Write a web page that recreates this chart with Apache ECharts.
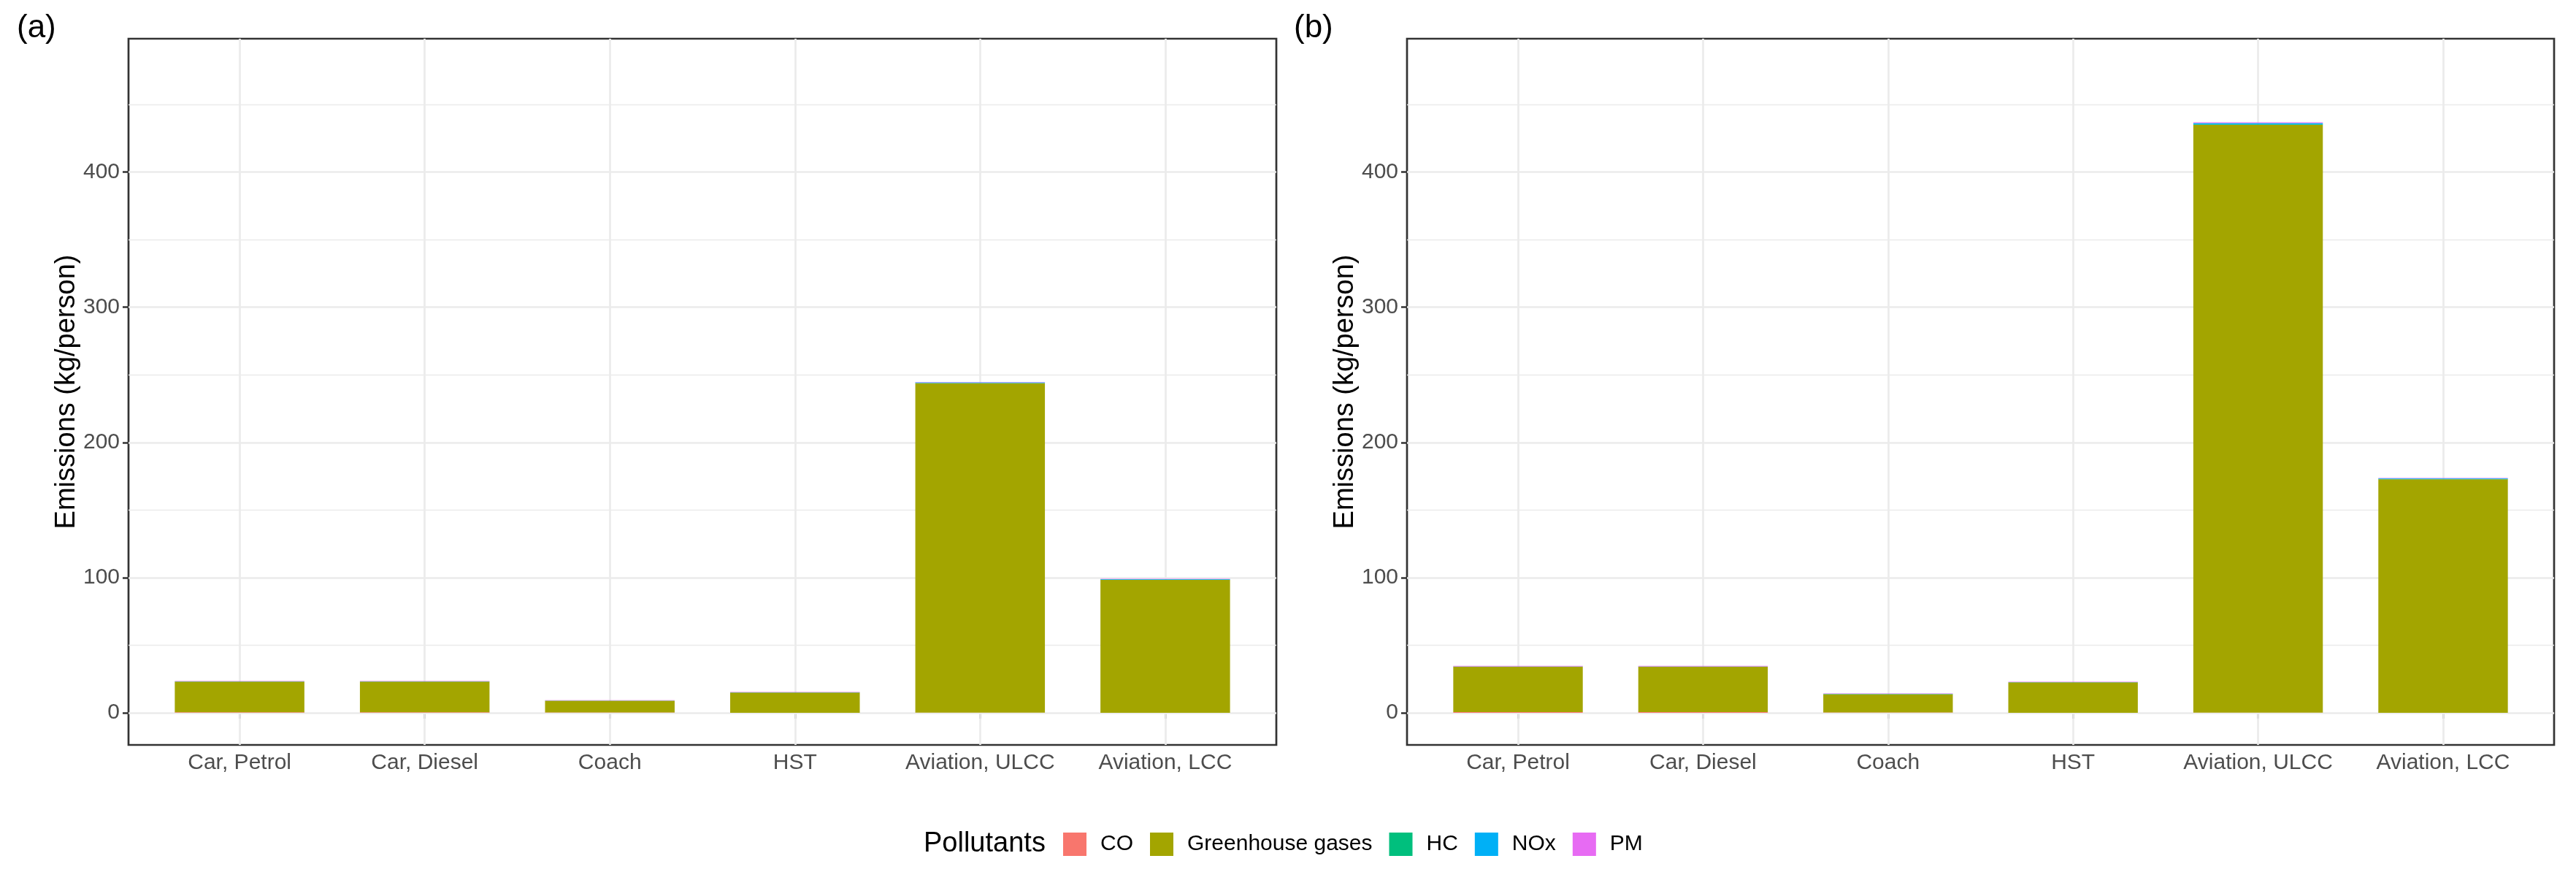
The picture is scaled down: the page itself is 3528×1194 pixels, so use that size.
<!DOCTYPE html>
<html>
<head>
<meta charset="utf-8">
<script src="https://cdn.jsdelivr.net/npm/echarts@6/dist/echarts.min.js"></script>
<style>
html, body { margin: 0; padding: 0; background: #fff; }
#chart { width: 3528px; height: 1194px; }
</style>
</head>
<body>
<div id="chart"></div>
<script>
// data (kg/person)
var categories = ['Car, Petrol', 'Car, Diesel', 'Coach', 'HST', 'Aviation, ULCC', 'Aviation, LCC'];
var pollutants = ['CO', 'Greenhouse gases', 'HC', 'NOx', 'PM'];

// panel (a)
var coA  = [0.5, 0.5, 0.3, 0, 0.2, 0.1];
var ghgA = [22.6, 22.6, 8.7, 15.1, 243.6, 98.3];
var hcA  = [0.05, 0.05, 0.05, 0, 0.1, 0.05];
var noxA = [0.15, 0.15, 0.1, 0.1, 0.6, 0.5];
var pmA  = [0.3, 0.3, 0.3, 0.3, 0.3, 0.25];

// panel (b)
var coB  = [0.6, 0.6, 0.4, 0, 0.2, 0.1];
var ghgB = [33.6, 33.6, 13.5, 22.6, 434.7, 172.7];
var hcB  = [0.05, 0.05, 0.05, 0, 0.4, 0.2];
var noxB = [0.15, 0.15, 0.1, 0.1, 0.9, 0.4];
var pmB  = [0.4, 0.4, 0.3, 0.3, 0.5, 0.3];

var yTicks = [0, 100, 200, 300, 400];
var yMinor = [50, 150, 250, 350, 450];

var colors = ['#F8766D', '#A3A500', '#00BF7D', '#00B0F6', '#E76BF3'];
var FONT = '"Liberation Sans", Arial, sans-serif';

var yMin = -23.7, yMax = 498.6;
var panelTop = 53, panelBottom = 1020;
var panels = [
    { left: 176, right: 1748, tag: '(a)', tagX: 23, data: [coA, ghgA, hcA, noxA, pmA] },
    { left: 1927, right: 3498, tag: '(b)', tagX: 1772, data: [coB, ghgB, hcB, noxB, pmB] }
];

var grids = [], xAxes = [], yAxes = [], series = [], graphics = [];
var tickStyle = { color: '#333333', width: 2.5 };

panels.forEach(function (p, i) {
    var w = p.right - p.left;
    var band = w / 6.2;
    var inset = 0.1 * band;
    var h = panelBottom - panelTop;
    var outer = 2 * i, inner = 2 * i + 1;

    grids.push({ left: p.left, top: panelTop, width: w, height: h, show: true,
        borderColor: '#333333', borderWidth: 2.7, backgroundColor: 'transparent', outerBoundsMode: 'none' });
    grids.push({ left: p.left + inset, top: panelTop, width: w - 2 * inset, height: h, outerBoundsMode: 'none' });

    xAxes.push({ gridIndex: outer, type: 'value', min: 0, max: 1, show: false });
    yAxes.push({
        gridIndex: outer, type: 'value', min: yMin, max: yMax,
        axisLine: { show: false },
        axisTick: { show: true, customValues: yTicks, length: 8, lineStyle: tickStyle },
        axisLabel: { customValues: yTicks, fontSize: 30, color: '#4D4D4D', margin: 12, fontFamily: FONT },
        splitLine: { show: false },
        name: 'Emissions (kg/person)', nameLocation: 'middle', nameGap: 62,
        nameTextStyle: { fontSize: 38, color: '#000', fontFamily: FONT }
    });

    xAxes.push({
        gridIndex: inner, type: 'category', data: categories,
        axisLine: { show: false },
        axisTick: { show: true, alignWithLabel: true, length: 8, lineStyle: tickStyle },
        axisLabel: { fontSize: 30, color: '#4D4D4D', margin: 10, interval: 0, fontFamily: FONT },
        splitLine: { show: false }
    });
    yAxes.push({ gridIndex: inner, type: 'value', min: yMin, max: yMax, show: false });

    // horizontal grid lines
    var hLines = yTicks.map(function (v) {
        return { yAxis: v, lineStyle: { type: 'solid', color: '#EBEBEB', width: 2.7 } };
    }).concat(yMinor.map(function (v) {
        return { yAxis: v, lineStyle: { type: 'solid', color: '#EBEBEB', width: 1.4 } };
    }));
    series.push({
        type: 'line', xAxisIndex: outer, yAxisIndex: outer, data: [], silent: true, z: 1,
        markLine: { silent: true, z: 1, symbol: ['none', 'none'], label: { show: false },
            animation: false, lineStyle: { type: 'solid', color: '#EBEBEB' }, data: hLines }
    });
    // vertical grid lines at category centres
    series.push({
        type: 'line', xAxisIndex: inner, yAxisIndex: inner, data: [], silent: true, z: 1,
        markLine: { silent: true, z: 1, symbol: ['none', 'none'], label: { show: false },
            animation: false, lineStyle: { type: 'solid', color: '#EBEBEB', width: 2.7 },
            data: categories.map(function (c) { return { xAxis: c }; }) }
    });

    pollutants.forEach(function (name, j) {
        series.push({
            name: name, type: 'bar', stack: 'panel' + i,
            xAxisIndex: inner, yAxisIndex: inner,
            barWidth: '70%', z: 3,
            itemStyle: { color: colors[j] },
            data: p.data[j]
        });
    });

    graphics.push({ type: 'text', left: p.tagX, top: 17,
        style: { text: p.tag, fontSize: 44, fill: '#000', fontFamily: FONT } });
});

graphics.push({ type: 'text', left: 1265, top: 1137,
    style: { text: 'Pollutants', fontSize: 38, fill: '#000', fontFamily: FONT } });

var chart = echarts.init(document.getElementById('chart'));
chart.setOption({
    animation: false,
    backgroundColor: '#fff',
    textStyle: { fontFamily: FONT },
    grid: grids,
    xAxis: xAxes,
    yAxis: yAxes,
    legend: {
        data: pollutants, left: 1451, top: 1135, orient: 'horizontal',
        icon: 'rect', itemWidth: 32, itemHeight: 32, itemGap: 23,
        selectedMode: false,
        textStyle: { fontSize: 30, color: '#000', fontFamily: FONT, padding: [0, 0, 0, 14] }
    },
    graphic: graphics,
    series: series
});
</script>
</body>
</html>
